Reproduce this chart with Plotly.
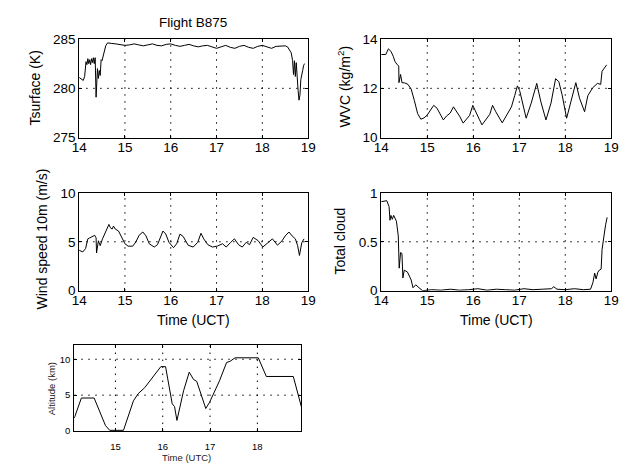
import plotly.graph_objects as go

# ---------------- data ----------------
t_tsurf = [14.00, 14.05, 14.09, 14.12, 14.15, 14.17, 14.19, 14.21, 14.23, 14.25, 14.27, 14.29,
           14.31, 14.33, 14.35, 14.37, 14.38, 14.40, 14.42, 14.44, 14.46, 14.48, 14.50, 14.52,
           14.55, 14.58, 14.62, 14.65, 14.70, 14.80, 14.90, 15.00, 15.10, 15.20, 15.30, 15.40,
           15.50, 15.60, 15.70, 15.80, 15.90, 16.00, 16.10, 16.20, 16.30, 16.40, 16.50, 16.60,
           16.70, 16.80, 16.90, 17.00, 17.10, 17.20, 17.30, 17.40, 17.50, 17.60, 17.70, 17.80,
           17.90, 18.00, 18.10, 18.20, 18.30, 18.40, 18.50, 18.55, 18.60, 18.63, 18.66, 18.68,
           18.70, 18.72, 18.74, 18.76, 18.78, 18.80, 18.82, 18.84, 18.86, 18.88, 18.90, 18.92]
v_tsurf = [281.1, 280.9, 280.8, 281.2, 282.7, 282.4, 283.0, 282.5, 282.9, 282.4, 283.0, 282.6,
           283.1, 282.5, 283.1, 279.1, 280.0, 282.0, 281.0, 281.8, 281.3, 282.9, 282.8, 283.2,
           283.5, 284.3, 284.6, 284.6, 284.55, 284.5, 284.45, 284.35, 284.4, 284.5, 284.4, 284.3,
           284.4, 284.5, 284.35, 284.3, 284.45, 284.5, 284.35, 284.25, 284.35, 284.45, 284.3, 284.2,
           284.3, 284.35, 284.2, 284.05, 284.2, 284.35, 284.15, 284.05, 284.25, 284.35, 284.15, 284.05,
           284.25, 284.35, 284.2, 284.05, 284.25, 284.3, 284.3, 284.2, 283.9, 283.6, 282.8, 281.4,
           282.8, 281.2, 282.6, 280.6, 279.8, 278.8, 279.3, 280.9, 281.6, 281.8, 282.3, 282.5]

t_wvc = [14.00, 14.10, 14.155, 14.21, 14.26, 14.30, 14.34, 14.38, 14.385, 14.42, 14.45, 14.51,
         14.58, 14.65, 14.72, 14.79, 14.86, 14.93, 15.00, 15.07, 15.14, 15.21, 15.28, 15.35,
         15.42, 15.50, 15.57, 15.64, 15.71, 15.78, 15.85, 15.92, 15.99, 16.06, 16.13, 16.19,
         16.26, 16.36, 16.42, 16.49, 16.63, 16.70, 16.76, 16.83, 16.90, 16.96, 17.01, 17.08,
         17.15, 17.26, 17.38, 17.47, 17.58, 17.69, 17.79, 17.86, 17.93, 18.03, 18.14, 18.23,
         18.31, 18.42, 18.49, 18.60, 18.70, 18.77, 18.80, 18.84, 18.90]
v_wvc = [13.37, 13.37, 13.60, 13.50, 13.30, 13.08, 12.98, 12.90, 12.23, 12.56, 12.23, 12.22,
         12.16, 11.97, 11.50, 10.98, 10.75, 10.80, 10.92, 11.14, 11.31, 11.20, 10.95, 10.72,
         10.88, 11.00, 11.25, 11.05, 10.85, 10.59, 10.75, 10.90, 11.31, 11.00, 10.75, 10.52,
         10.70, 10.95, 11.31, 11.05, 10.60, 10.85, 11.00, 11.25, 11.70, 12.10, 11.90, 11.35,
         10.79, 11.40, 12.20, 11.45, 10.72, 11.40, 12.39, 12.27, 11.75, 10.79, 11.55, 12.23,
         11.60, 11.05, 11.70, 12.03, 12.20, 12.16, 12.69, 12.80, 12.95]

t_wind = [14.00, 14.08, 14.14, 14.19, 14.23, 14.27, 14.30, 14.34, 14.37, 14.38, 14.42, 14.46,
          14.51, 14.58, 14.65, 14.68, 14.72, 14.75, 14.79, 14.86, 14.93, 15.00, 15.07, 15.17,
          15.24, 15.31, 15.39, 15.46, 15.53, 15.64, 15.71, 15.78, 15.83, 15.89, 15.96, 16.06,
          16.13, 16.20, 16.27, 16.38, 16.49, 16.59, 16.66, 16.72, 16.81, 16.91, 17.02, 17.13,
          17.21, 17.30, 17.39, 17.48, 17.56, 17.65, 17.72, 17.80, 17.91, 18.01, 18.12, 18.22,
          18.33, 18.43, 18.50, 18.58, 18.65, 18.72, 18.77, 18.81, 18.86, 18.91]
v_wind = [4.13, 3.96, 4.30, 5.30, 5.40, 5.50, 5.60, 5.66, 5.40, 3.86, 5.10, 4.60,
          5.30, 6.10, 6.77, 6.45, 6.30, 6.60, 6.30, 6.10, 5.45, 4.80, 4.55, 4.55,
          5.00, 5.67, 6.00, 5.60, 4.80, 4.46, 4.70, 5.45, 6.10, 5.80, 4.95, 4.40,
          4.80, 5.78, 5.55, 4.65, 4.46, 4.95, 5.87, 5.30, 4.70, 4.46, 4.56, 4.80,
          4.46, 4.90, 5.30, 4.70, 4.46, 4.95, 4.70, 5.45, 5.10, 4.46, 4.95, 5.30,
          4.65, 5.10, 5.60, 6.00, 5.60, 5.30, 4.60, 3.60, 4.90, 5.30]

t_cloud = [14.00, 14.12, 14.17, 14.19, 14.21, 14.24, 14.27, 14.30, 14.33, 14.37, 14.39, 14.42,
           14.45, 14.47, 14.50, 14.57, 14.65, 14.69, 14.72, 14.75, 14.82, 14.90, 15.10, 15.30,
           15.50, 15.70, 15.90, 16.10, 16.30, 16.50, 16.70, 16.90, 17.10, 17.30, 17.50, 17.70,
           17.75, 17.82, 18.00, 18.20, 18.40, 18.55, 18.60, 18.64, 18.67, 18.71, 18.74, 18.78,
           18.80, 18.83, 18.86, 18.88, 18.90, 18.91]
v_cloud = [0.91, 0.92, 0.86, 0.72, 0.77, 0.73, 0.77, 0.74, 0.71, 0.56, 0.23, 0.39,
           0.38, 0.13, 0.21, 0.19, 0.11, 0.03, 0.05, 0.06, 0.03, 0.00, 0.01, 0.005,
           0.015, 0.005, 0.01, 0.02, 0.005, 0.015, 0.01, 0.005, 0.02, 0.01, 0.015, 0.02,
           0.04, 0.015, 0.01, 0.02, 0.01, 0.015, 0.08, 0.18, 0.12, 0.19, 0.21, 0.22,
           0.42, 0.55, 0.62, 0.68, 0.72, 0.75]

t_alt = [14.13, 14.28, 14.55, 14.66, 14.79, 14.88, 15.17, 15.38, 15.48, 15.62, 15.82, 15.96,
         16.06, 16.20, 16.25, 16.30, 16.44, 16.56, 16.65, 16.72, 16.91, 16.99, 17.20, 17.35,
         17.42, 17.53, 18.02, 18.19, 18.76, 18.93]
v_alt = [1.8, 4.6, 4.6, 2.9, 0.76, 0.1, 0.1, 4.2, 5.2, 6.05, 7.7, 8.97,
         8.97, 3.8, 3.4, 1.48, 5.6, 8.2, 7.2, 6.9, 3.14, 4.0, 7.0, 9.55,
         9.7, 10.2, 10.2, 7.6, 7.6, 3.4]

# ---------------- figure ----------------
W, H = 629, 471
def dx(a, b):
    return [a / W, b / W]
def dy(top, bot):
    return [1 - bot / H, 1 - top / H]

FONT = "Liberation Sans, Arial, sans-serif"
fig = go.Figure()

def add(t, v, n):
    fig.add_trace(go.Scatter(x=t, y=v, mode="lines", line=dict(color="black", width=1),
                             xaxis="x" + ("" if n == 1 else str(n)),
                             yaxis="y" + ("" if n == 1 else str(n)),
                             showlegend=False, hoverinfo="skip"))

add(t_tsurf, v_tsurf, 1)
add(t_wvc, v_wvc, 2)
add(t_wind, v_wind, 3)
add(t_cloud, v_cloud, 4)
add(t_alt, v_alt, 5)

def ax(domain, rng, tickvals, ticktext, anchor, size=13.5, standoff=0):
    return dict(domain=domain, range=rng, anchor=anchor,
                tickmode="array", tickvals=tickvals, ticktext=ticktext,
                showline=True, mirror="ticks", linecolor="black", linewidth=1,
                ticks="inside", ticklen=3, tickcolor="black",
                showgrid=False, zeroline=False, ticklabelstandoff=standoff,
                tickfont=dict(family=FONT, size=size, color="black"))

layout = dict(width=W, height=H, margin=dict(l=0, r=0, t=0, b=0),
              paper_bgcolor="white", plot_bgcolor="white", showlegend=False)

xt = [14, 15, 16, 17, 18, 19]
xtt = [str(v) for v in xt]
top_y = dy(33, 135)
mid_y = dy(192, 293)
L = dx(73, 308)
R = dx(383, 619)

layout["xaxis"] = ax(L, [14, 19], xt, xtt, "y", standoff=-3)
layout["yaxis"] = ax(top_y, [275, 285], [275, 280, 285], ["275", "280", "285"], "x")
layout["xaxis2"] = ax(R, [14, 19], xt, xtt, "y2", standoff=-3)
layout["yaxis2"] = ax(top_y, [10, 14], [10, 12, 14], ["10", "12", "14"], "x2")
layout["xaxis3"] = ax(L, [14, 19], xt, xtt, "y3", standoff=-3)
layout["yaxis3"] = ax(mid_y, [0, 10], [0, 5, 10], ["0", "5", "10"], "x3")
layout["xaxis4"] = ax(R, [14, 19], xt, xtt, "y4", standoff=-3)
layout["yaxis4"] = ax(mid_y, [0, 1], [0, 0.5, 1], ["0", "0.5", "1"], "x4")
layout["xaxis5"] = ax(dx(68, 301), [14.13, 18.93], [15, 16, 17, 18], ["15", "16", "17", "18"], "y5",
                      size=9.5, standoff=7)
layout["yaxis5"] = ax(dy(349, 438), [0, 12], [0, 5, 10], ["0", "5", "10"], "x5", size=9.5, standoff=1)
fig.update_layout(**layout)

DOT = dict(color="black", width=1, dash="1.5px,5.5px")

def vgrid(n, xs, y0, y1):
    xr = "x" + ("" if n == 1 else str(n))
    yr = "y" + ("" if n == 1 else str(n))
    for xv in xs:
        fig.add_shape(type="line", xref=xr, yref=yr, x0=xv, x1=xv, y0=y0, y1=y1,
                      line=DOT, layer="below")
def hgrid(n, ys, x0, x1):
    xr = "x" + ("" if n == 1 else str(n))
    yr = "y" + ("" if n == 1 else str(n))
    for yv in ys:
        fig.add_shape(type="line", xref=xr, yref=yr, x0=x0, x1=x1, y0=yv, y1=yv,
                      line=DOT, layer="below")

vgrid(1, [15, 16, 17, 18], 275, 285); hgrid(1, [280], 14, 19)
vgrid(2, [15, 16, 17, 18], 10, 14); hgrid(2, [12], 14, 19)
vgrid(3, [15, 16, 17, 18], 0, 10); hgrid(3, [5], 14, 19)
vgrid(4, [15, 16, 17, 18], 0, 1); hgrid(4, [0.5], 14, 19)
vgrid(5, [15, 16, 17, 18], 0, 12); hgrid(5, [5, 10], 14.13, 18.93)

def lab(text, xpx, ypx, size, angle=0, color="black"):
    fig.add_annotation(text=text, x=xpx / W, y=1 - ypx / H, xref="paper", yref="paper",
                       showarrow=False, textangle=angle, xanchor="center", yanchor="middle",
                       font=dict(family=FONT, size=size, color=color))

lab("Flight B875", 190, 16, 13.5)
lab("Tsurface (K)", 28, 84, 14, -90)
lab("WVC (kg/m<sup>2</sup>)", 345, 82, 14, -90)
lab("Wind speed 10m (m/s)", 35, 240, 14, -90)
lab("Total cloud", 341, 242, 14, -90)
lab("Time (UCT)", 190, 323, 14)
lab("Time (UCT)", 501, 323, 14)
lab("Altitude (km)", 45, 394, 9.5, -90, "#222")
lab("Time (UTC)", 183, 465, 9.5, 0, "#222")

fig.write_html("out.html")
